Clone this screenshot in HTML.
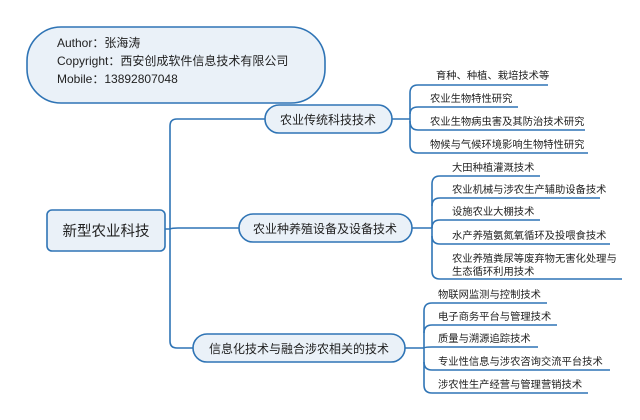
<!DOCTYPE html>
<html><head><meta charset="utf-8"><style>
body{margin:0;background:#fff;}
svg{display:block;font-family:"Liberation Sans","Noto Sans CJK SC",sans-serif;}
</style></head><body>
<svg width="640" height="420" viewBox="0 0 640 420">
<rect width="640" height="420" fill="#fff"/>
<g fill="#eaf1f8" stroke="#2f74b5" stroke-width="1.6">
<rect x="27" y="27" width="298" height="76" rx="34"/>
<rect x="47" y="210" width="118" height="41" rx="5"/>
<rect x="265" y="105" width="127" height="28" rx="14"/>
<rect x="239" y="214" width="173" height="28" rx="14"/>
<rect x="193" y="334" width="212" height="28" rx="14"/>
</g>
<g fill="none" stroke="#2f74b5" stroke-width="1.6">
<path d="M165 229 H170 M177 119 Q170 119 170 126 V341 Q170 348 177 348 H193 M170 229 Q172 228 178 228 H239 M177 119 H265"/>
<path d="M392 119 H410"/>
<path d="M548 85 H418 Q410 85 410 93 V145 Q410 153 418 153 H588"/>
<path d="M410 114 Q410 107 418 107 H518 M410 121 Q410 130 418 130 H585"/>
<path d="M412 228 H432"/>
<path d="M540 176 H440 Q432 176 432 184 V271 Q432 279 440 279 H622"/>
<path d="M432 206 Q432 198 440 198 H600 M432 228 Q432 220 440 220 H540 M432 236 Q432 244 440 244 H610"/>
<path d="M405 348 H424"/>
<path d="M547 303 H432 Q424 303 424 311 V385 Q424 393 432 393 H588"/>
<path d="M424 333 Q424 325 432 325 H557 M424 348 Q424 347 432 347 H538 M424 362 Q424 370 432 370 H610"/>
</g>
<g fill="#222" font-size="12">
<text x="57" y="47">Author：张海涛</text>
<text x="57" y="65">Copyright：西安创成软件信息技术有限公司</text>
<text x="57" y="83">Mobile：13892807048</text>
</g>
<g fill="#222" font-size="14.5" text-anchor="middle">
<text x="106" y="236">新型农业科技</text>
</g>
<g fill="#222" font-size="12" text-anchor="middle">
<text x="328" y="124">农业传统科技技术</text>
<text x="325" y="233">农业种养殖设备及设备技术</text>
<text x="299" y="353">信息化技术与融合涉农相关的技术</text>
</g>
<g fill="#222" font-size="10.3">
<text x="436" y="79">育种、种植、栽培技术等</text>
<text x="430" y="102">农业生物特性研究</text>
<text x="430" y="125">农业生物病虫害及其防治技术研究</text>
<text x="430" y="148">物候与气候环境影响生物特性研究</text>
<text x="452" y="171">大田种植灌溉技术</text>
<text x="452" y="193">农业机械与涉农生产辅助设备技术</text>
<text x="452" y="215">设施农业大棚技术</text>
<text x="452" y="239">水产养殖氨氮氧循环及投喂食技术</text>
<text x="452" y="262">农业养殖粪尿等废弃物无害化处理与</text>
<text x="452" y="275">生态循环利用技术</text>
<text x="438" y="298">物联网监测与控制技术</text>
<text x="438" y="320">电子商务平台与管理技术</text>
<text x="438" y="342">质量与溯源追踪技术</text>
<text x="438" y="365">专业性信息与涉农咨询交流平台技术</text>
<text x="438" y="388">涉农性生产经营与管理营销技术</text>
</g>
</svg>
</body></html>
